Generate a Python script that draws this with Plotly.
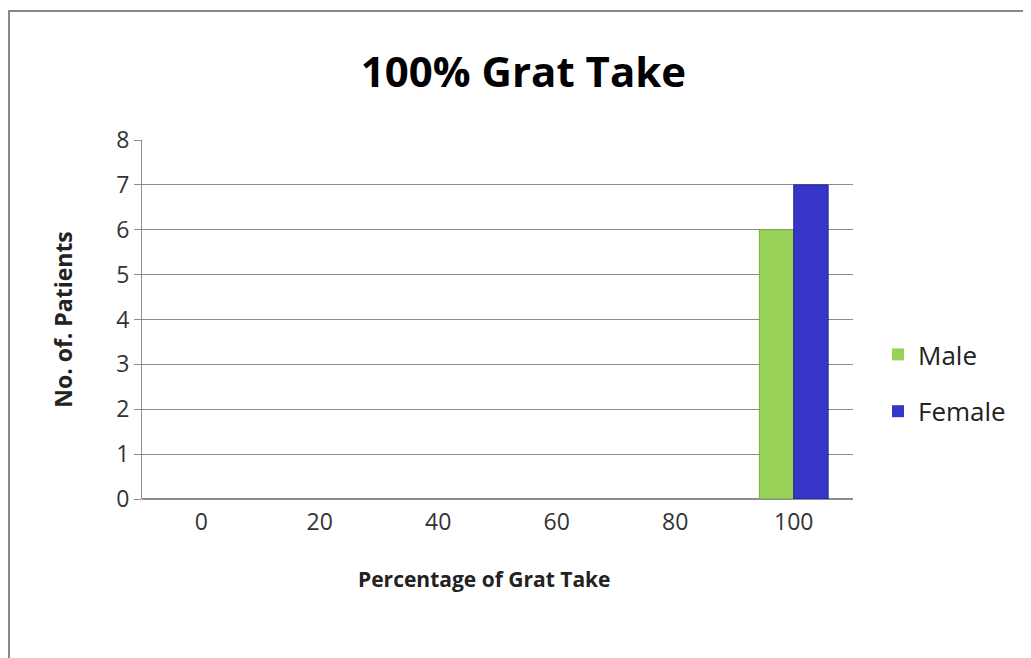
import plotly.graph_objects as go

categories = ["0", "20", "40", "60", "80", "100"]
male = [0, 0, 0, 0, 0, 6]
female = [0, 0, 0, 0, 0, 7]
y_ticks = [0, 1, 2, 3, 4, 5, 6, 7, 8]

W, H = 1031, 658
OFF = 7  # page offset of the plot in the browser
# target plot area in screen pixels
PX0, PX1, PY0, PY1 = 141, 852, 139, 498
L, T = PX0 - OFF, PY0 - OFF
R, B = W - (PX1 - OFF), H - (PY1 - OFF)
pw, ph = W - L - R, H - T - B


def px(x):
    return (x - PX0) / (PX1 - PX0)


def py(y):
    return (PY1 - y) / (PY1 - PY0)


def lw(vals, w):
    return [w if v else 0 for v in vals]


fig = go.Figure()
fig.add_trace(go.Bar(name="Male", x=categories, y=male, legendgroup="m",
                     marker=dict(color="#98D158", line=dict(color="#7AAE3E", width=lw(male, 1)))))
fig.add_trace(go.Bar(name="Female", x=categories, y=female, legendgroup="f",
                     marker=dict(color="#3535C8", line=dict(color="#22228F", width=lw(female, 1)))))

fig.update_layout(
    width=W, height=H,
    margin=dict(l=L, r=R, t=T, b=B, autoexpand=False),
    paper_bgcolor="white", plot_bgcolor="white",
    barmode="group", bargap=0.42, bargroupgap=0,
    font=dict(family="Open Sans, Lato, sans-serif", color="#222"),
    title=dict(text="<b>100% Grat Take</b>", x=0.5, xanchor="center",
               y=1 - (71 - OFF) / H, yanchor="middle",
               font=dict(size=42, family="Open Sans, sans-serif", color="black")),
    xaxis=dict(showgrid=False, showline=False, ticks="", ticklen=0,
               ticklabelstandoff=7,
               tickfont=dict(size=23, color="#333")),
    yaxis=dict(title=dict(text="<b>No. of. Patients</b>", standoff=37,
                          font=dict(size=23, color="#222")),
               range=[0, 8], tickvals=y_ticks, showgrid=True, gridcolor="#8c8c8c",
               gridwidth=1, zeroline=True, zerolinecolor="#8c8c8c",
               showline=True, linecolor="#8c8c8c", linewidth=1,
               ticks="outside", ticklen=7, tickcolor="#8c8c8c",
               tickfont=dict(size=23, color="#333")),
    legend=dict(x=px(877), y=py(330), xanchor="left", yanchor="top",
                font=dict(size=26, color="#222"), tracegroupgap=20, itemwidth=30,
                bgcolor="rgba(0,0,0,0)"),
    annotations=[dict(text="<b>Percentage of Grat Take</b>", xref="paper", yref="paper",
                      x=px(483), y=py(578), xanchor="center", yanchor="middle",
                      showarrow=False, font=dict(size=21, color="#222"))],
    shapes=[dict(type="rect", xref="paper", yref="paper",
                 x0=px(OFF + 1), x1=px(W + 20), y0=py(H + 20), y1=py(10),
                 line=dict(color="#888888", width=2), fillcolor="rgba(0,0,0,0)",
                 layer="below")],
)

fig.write_html("out.html")
